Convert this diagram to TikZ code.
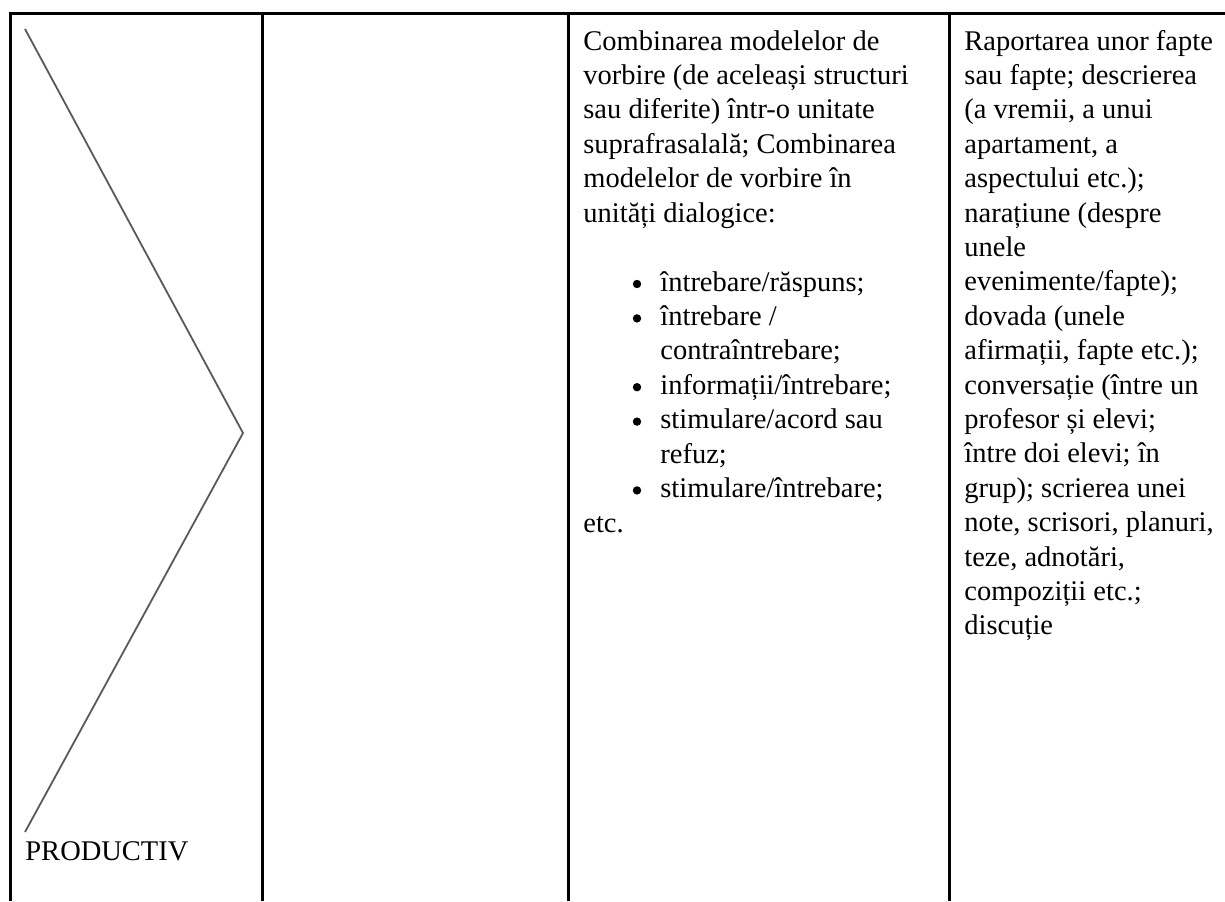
\documentclass[tikz,border=0pt]{standalone}
\usepackage{fontspec}
\setmainfont{Liberation Serif}
\begin{document}
\begin{tikzpicture}[x=0.5pt,y=-0.5pt,
  txt/.style={anchor=base west,inner sep=0pt,font=\fontsize{14.25}{17.5}\selectfont},
  dot/.style={circle,fill,inner sep=0pt,minimum size=4.2pt},
  rule/.style={line width=1.5pt}]
\useasboundingbox (0,0) rectangle (1225,901);
% table rules
\draw[rule] (9,13) -- (1225,13);
\draw[rule] (10,13) -- (10,901);
\draw[rule] (262,13) -- (262,901);
\draw[rule] (568,13) -- (568,901);
\draw[rule] (949,13) -- (949,901);
% first column
\coordinate (zt) at (25,29);
\coordinate (zm) at (243,433);
\coordinate (zb) at (25,832);
\draw[black!65, line width=0.9pt] (zt) -- (zm) -- (zb);
\node[txt] (prod) at (25,860) {PRODUCTIV};
% third column
\foreach \t [count=\i from 0] in {Combinarea modelelor de,
  vorbire (de aceleași structuri, sau diferite) într-o unitate,
  suprafrasalală; Combinarea, modelelor de vorbire în, unități dialogice:}
  \node[txt] (para\i) at (583,50+34.4*\i) {\t};
\foreach \b/\t [count=\i from 0] in {1/{întrebare/răspuns;}, 1/{întrebare /},
  0/{contraîntrebare;}, 1/{informații/întrebare;}, 1/{stimulare/acord sau},
  0/{refuz;}, 1/{stimulare/întrebare;}}{
  \node[txt] (item\i) at (660,291+34.4*\i) {\t};
  \ifnum\b=1 \node[dot] (dot\i) at (637,284+34.4*\i) {};\fi
}
\node[txt] (etc) at (583,532) {etc.};
% fourth column
\foreach \t [count=\i from 0] in {Raportarea unor fapte, sau fapte; descrierea,
  {(a vremii, a unui}, {apartament, a}, aspectului etc.);, narațiune (despre,
  unele, evenimente/fapte);, dovada (unele, {afirmații, fapte etc.);},
  conversație (între un, profesor și elevi;, între doi elevi; în,
  grup); scrierea unei, {note, scrisori, planuri,}, {teze, adnotări,},
  compoziții etc.;, discuție}
  \node[txt] (form\i) at (964,50+34.4*\i) {\t};
\end{tikzpicture}
\end{document}
